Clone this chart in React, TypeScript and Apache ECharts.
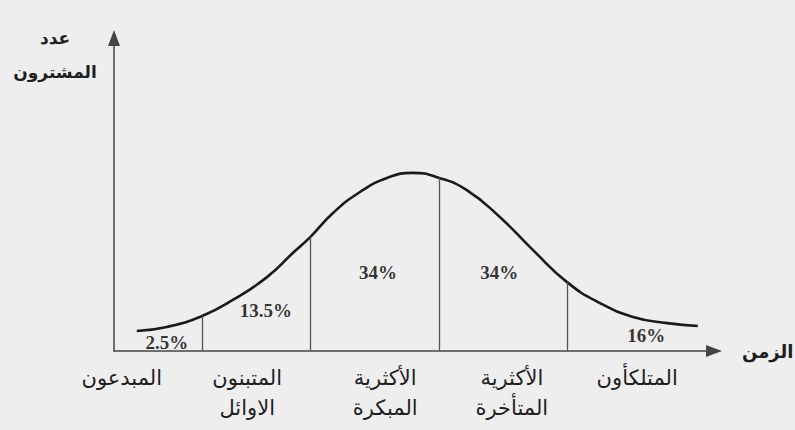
import React, { useEffect, useRef } from "react";
import * as echarts from "echarts";

// Adoption curve (time units 0-100, adopters 0-100)
const curveX = [3.8, 8.8, 14.7, 19.8, 25.5, 29.8, 32.7, 36.5, 41.0, 45.5, 49.8, 54.2, 58.8, 64.3, 69.8, 75.5, 81.0, 86.5, 92.2, 97.3];
const curveY = [6.4, 7.7, 11.2, 16.3, 23.6, 31.3, 36.4, 44.1, 50.8, 55.3, 56.9, 55.3, 51.4, 42.8, 32.3, 22.0, 15.3, 10.9, 8.9, 8.0];

// Vertical dividers between adopter groups
const dividerX = [14.7, 32.7, 54.2, 75.5];
const dividerTop = [11.2, 36.4, 55.3, 22.0];

// Share of each group
const shareLabels = ["2.5%", "13.5%", "34%", "34%", "16%"];
const shareX = [8.8, 25.3, 44.0, 64.2, 88.7];
const shareY = [2.6, 12.8, 25.2, 25.2, 5.1];

// Group names under the time axis
const groupNames = ["المبدعون", "المتبنون\nالاوائل", "الأكثرية\nالمبكرة", "الأكثرية\nالمتأخرة", "المتلكأون"];
const groupX = [1.3, 22.2, 45.2, 66.3, 87.2];

const xAxisName = "الزمن";
const yAxisName = "عدد\nالمشترون";

export default function App() {
  const ref = useRef<HTMLDivElement>(null);
  useEffect(() => {
    if (!ref.current) return;
    const chart = echarts.init(ref.current, null, { renderer: "svg" });
    const curve = curveX.map((x, i) => [x, curveY[i]]);
    const shares = shareX.map((x, i) => ({ value: [x, shareY[i]], name: shareLabels[i] }));
    chart.setOption({
      animation: false,
      backgroundColor: "#eeeeee",
      grid: {
        left: 114,
        right: 81,
        top: 38,
        bottom: 79,
        containLabel: false,
        outerBoundsMode: "none",
      },
      xAxis: {
        type: "value",
        min: 0,
        max: 100,
        splitLine: { show: false },
        axisTick: { show: false },
        axisLine: {
          show: true,
          symbol: ["none", "triangle"],
          symbolSize: [12, 16],
          lineStyle: { color: "#444", width: 1.5 },
        },
        axisLabel: {
          show: true,
          customValues: groupX,
          margin: 12,
          color: "#1e1e1e",
          fontFamily: "DejaVu Sans",
          fontSize: 21,
          lineHeight: 30,
          formatter: (v: number) => {
            let best = 0;
            groupX.forEach((g, i) => {
              if (Math.abs(g - v) < Math.abs(groupX[best] - v)) best = i;
            });
            return groupNames[best];
          },
        },
        name: xAxisName,
        nameLocation: "end",
        nameGap: 28,
        nameTextStyle: { fontFamily: "DejaVu Sans", fontWeight: "bold", fontSize: 18, color: "#1e1e1e" },
      },
      yAxis: {
        type: "value",
        min: 0,
        max: 100,
        splitLine: { show: false },
        axisTick: { show: false },
        axisLabel: { show: false },
        axisLine: {
          show: true,
          symbol: ["none", "triangle"],
          symbolSize: [12, 16],
          lineStyle: { color: "#444", width: 1.5 },
        },
        name: yAxisName,
        nameLocation: "end",
        nameGap: 17,
        nameTextStyle: {
          fontFamily: "DejaVu Sans",
          fontWeight: "bold",
          fontSize: 17,
          lineHeight: 34,
          color: "#1e1e1e",
          align: "center",
          verticalAlign: "top",
          padding: [0, 118, 0, 0],
        },
      },
      series: [
        {
          type: "line",
          data: curve,
          smooth: 0.5,
          showSymbol: false,
          lineStyle: { color: "#1a1a1a", width: 2.6 },
          silent: true,
          markLine: {
            silent: true,
            symbol: ["none", "none"],
            label: { show: false },
            lineStyle: { type: "solid", color: "#555", width: 1.3 },
            data: dividerX.map((x, i) => [{ coord: [x, 0] }, { coord: [x, dividerTop[i]] }]),
          },
        },
        {
          type: "scatter",
          data: shares,
          symbolSize: 1,
          itemStyle: { color: "rgba(0,0,0,0)" },
          silent: true,
          label: {
            show: true,
            position: "inside",
            formatter: (p: any) => p.name,
            fontFamily: "Liberation Serif",
            fontWeight: "bold",
            fontSize: 19,
            color: "#000",
          },
        },
      ],
    });
    return () => chart.dispose();
  }, []);
  return (
    <div
      ref={ref}
      style={{ position: "fixed", left: 0, top: 0, width: 795, height: 430 }}
    />
  );
}
